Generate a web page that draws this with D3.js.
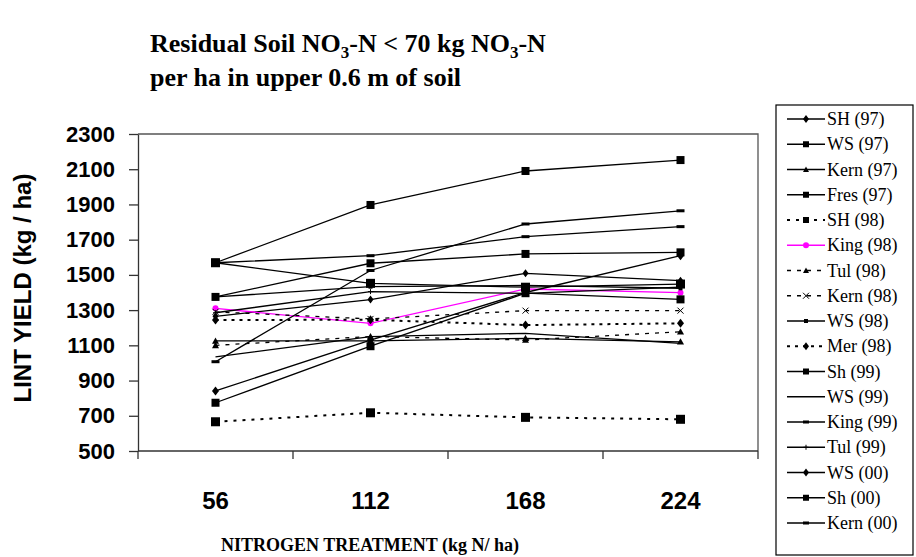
<!DOCTYPE html>
<html>
<head>
<meta charset="utf-8">
<script src="https://cdn.jsdelivr.net/npm/d3@7"></script>
<style>
  body { margin: 0; background: #fff; }
  svg { display: block; }
  .serif { font-family: "Liberation Serif", "DejaVu Serif Condensed", "DejaVu Serif", serif; }
  .sans { font-family: "Liberation Sans", Arial, Helvetica, sans-serif; }
</style>
</head>
<body>
<svg id="chart" width="916" height="557"></svg>
<script>
// nitrogen rates (kg N/ha)
const rates = ['56', '112', '168', '224'];
const yTicks = [500, 700, 900, 1100, 1300, 1500, 1700, 1900, 2100, 2300];

// lint yield per site/year
const sh97 = [1265, 1360, 1509, 1467];
const ws97 = [1569, 1897, 2090, 2152];
const kern97 = [1125, 1125, 1140, 1120];
const fres97 = [1375, 1566, 1619, 1628];
const sh98 = [666, 717, 691, 680];
const king98 = [1310, 1225, 1420, 1399];
const tul98 = [1100, 1150, 1130, 1177];
const kern98 = [1290, 1250, 1297, 1297];
const ws98 = [1375, 1433, 1440, 1424];
const mer98 = [1244, 1245, 1215, 1225];
const sh99 = [1569, 1452, 1430, 1448];
const ws99 = [1035, 1149, 1168, 1111];
const king99 = [1569, 1609, 1717, 1774];
const tul99 = [1285, 1405, 1395, 1430];
const ws00 = [841, 1130, 1400, 1609];
const sh00 = [774, 1095, 1396, 1361];
const kern00 = [1007, 1525, 1789, 1864];

const seriesNames = ['SH (97)', 'WS (97)', 'Kern (97)', 'Fres (97)', 'SH (98)', 'King (98)',
  'Tul (98)', 'Kern (98)', 'WS (98)', 'Mer (98)', 'Sh (99)', 'WS (99)', 'King (99)',
  'Tul (99)', 'WS (00)', 'Sh (00)', 'Kern (00)'];
const seriesValues = [sh97, ws97, kern97, fres97, sh98, king98, tul98, kern98, ws98,
  mer98, sh99, ws99, king99, tul99, ws00, sh00, kern00];

// drawing style per series: marker, dash, colour
const styles = [
  { m: 'diamond', s: 3, dash: null, c: '#000' },
  { m: 'square', s: 4, dash: null, c: '#000' },
  { m: 'triangle', s: 3.5, dash: null, c: '#000' },
  { m: 'square', s: 4, dash: null, c: '#000' },
  { m: 'square', s: 4.5, dash: '3,6', c: '#000', w: 2 },
  { m: 'circle', s: 3, dash: null, c: '#ff00ff' },
  { m: 'triangle', s: 3.5, dash: '4,6', c: '#000' },
  { m: 'cross', s: 3, dash: '4,6', c: '#000' },
  { m: 'square', s: 2, dash: null, c: '#000' },
  { m: 'diamond', s: 3.5, dash: '3,5', c: '#000', w: 2 },
  { m: 'square', s: 4.5, dash: null, c: '#000' },
  { m: 'none', s: 0, dash: null, c: '#000' },
  { m: 'dash', s: 4, dash: null, c: '#000' },
  { m: 'plus', s: 2.5, dash: null, c: '#000' },
  { m: 'diamond', s: 3.5, dash: null, c: '#000' },
  { m: 'square', s: 4, dash: null, c: '#000' },
  { m: 'dash', s: 4, dash: null, c: '#000' }
];

const svg = d3.select('#chart');
const plot = { left: 138, right: 758, top: 134, bottom: 451 };

const x = d3.scaleBand().domain(rates).range([plot.left, plot.right]);
const y = d3.scaleLinear().domain([500, 2300]).range([plot.bottom, plot.top]);
const cx = d => x(d) + x.bandwidth() / 2;

// title
const title = svg.append('text')
  .attr('class', 'serif')
  .attr('x', 150).attr('y', 52)
  .attr('font-weight', 'bold').attr('font-size', 26).attr('fill', '#000');
title.append('tspan').text('Residual Soil NO');
title.append('tspan').attr('font-size', 17).attr('dy', 6).text('3');
title.append('tspan').attr('dy', -6).text('-N < 70 kg NO');
title.append('tspan').attr('font-size', 17).attr('dy', 6).text('3');
title.append('tspan').attr('dy', -6).text('-N');
svg.append('text')
  .attr('class', 'serif')
  .attr('x', 150).attr('y', 86)
  .attr('font-weight', 'bold').attr('font-size', 26)
  .text('per ha in upper 0.6 m of soil');

// plot frame (top and right edges)
svg.append('path')
  .attr('d', `M${plot.left},${plot.top}H${plot.right}V${plot.bottom}`)
  .attr('fill', 'none').attr('stroke', '#555').attr('stroke-width', 1.3);

// y axis
const yAxis = svg.append('g')
  .attr('transform', `translate(${plot.left},0)`)
  .call(d3.axisLeft(y).tickValues(yTicks).tickFormat(d3.format('d'))
    .tickSize(9).tickSizeOuter(0).tickPadding(14));
yAxis.selectAll('path, line').attr('stroke', '#333').attr('stroke-width', 1.3);
yAxis.selectAll('text')
  .attr('class', 'sans')
  .attr('font-family', null)
  .attr('font-weight', 'bold').attr('font-size', 22).attr('fill', '#000');

// x axis: ticks between categories
const xAxis = svg.append('g').attr('transform', `translate(0,${plot.bottom})`);
xAxis.append('line')
  .attr('x1', plot.left).attr('x2', plot.right)
  .attr('stroke', '#333').attr('stroke-width', 1.3);
xAxis.selectAll('.tk')
  .data(rates.concat(['end']))
  .join('line')
  .attr('x1', (d, i) => plot.left + i * x.bandwidth())
  .attr('x2', (d, i) => plot.left + i * x.bandwidth())
  .attr('y1', 0).attr('y2', 8)
  .attr('stroke', '#333').attr('stroke-width', 1.3);
xAxis.selectAll('.lbl')
  .data(rates)
  .join('text')
  .attr('class', 'sans')
  .attr('x', d => cx(d)).attr('y', 58)
  .attr('text-anchor', 'middle')
  .attr('font-weight', 'bold').attr('font-size', 24)
  .text(d => d);

// axis titles
svg.append('text')
  .attr('class', 'sans')
  .attr('transform', 'translate(31,288) rotate(-90)')
  .attr('text-anchor', 'middle')
  .attr('font-weight', 'bold').attr('font-size', 24)
  .text('LINT YIELD (kg / ha)');
svg.append('text')
  .attr('class', 'serif')
  .attr('x', 370).attr('y', 551)
  .attr('text-anchor', 'middle')
  .attr('font-weight', 'bold').attr('font-size', 18)
  .text('NITROGEN TREATMENT (kg N/ ha)');

function drawMarker(g, st, px, py) {
  const s = st.s;
  if (st.m === 'square') {
    g.append('rect').attr('x', px - s).attr('y', py - s).attr('width', 2 * s).attr('height', 2 * s).attr('fill', st.c);
  } else if (st.m === 'diamond') {
    g.append('path').attr('d', `M${px},${py - s - 1}L${px + s},${py}L${px},${py + s + 1}L${px - s},${py}Z`).attr('fill', st.c);
  } else if (st.m === 'triangle') {
    g.append('path').attr('d', `M${px},${py - s}L${px + s},${py + s * 0.8}L${px - s},${py + s * 0.8}Z`).attr('fill', st.c);
  } else if (st.m === 'circle') {
    g.append('circle').attr('cx', px).attr('cy', py).attr('r', s).attr('fill', st.c);
  } else if (st.m === 'cross') {
    g.append('path').attr('d', `M${px - s},${py - s}L${px + s},${py + s}M${px - s},${py + s}L${px + s},${py - s}`).attr('stroke', st.c).attr('stroke-width', 1);
  } else if (st.m === 'plus') {
    g.append('path').attr('d', `M${px - s},${py}H${px + s}M${px},${py - s}V${py + s}`).attr('stroke', st.c).attr('stroke-width', 1);
  } else if (st.m === 'dash') {
    g.append('rect').attr('x', px - s).attr('y', py - 1.5).attr('width', 2 * s).attr('height', 3).attr('fill', st.c);
  }
}

// series lines
const line = d3.line().x((d, i) => cx(rates[i])).y(d => y(d));
seriesValues.forEach((vals, k) => {
  const st = styles[k];
  const g = svg.append('g');
  g.append('path')
    .datum(vals)
    .attr('d', line)
    .attr('fill', 'none')
    .attr('stroke', st.c)
    .attr('stroke-width', st.w || 1.3)
    .attr('stroke-dasharray', st.dash);
  vals.forEach((v, i) => drawMarker(g, st, cx(rates[i]), y(v)));
});

// legend
const lg = svg.append('g');
lg.append('rect')
  .attr('x', 776).attr('y', 105).attr('width', 137).attr('height', 450)
  .attr('fill', '#fff').attr('stroke', '#000').attr('stroke-width', 1.2);
seriesNames.forEach((name, k) => {
  const st = styles[k];
  const ly = 119 + k * 25.25;
  lg.append('line')
    .attr('x1', 787).attr('x2', 825).attr('y1', ly).attr('y2', ly)
    .attr('stroke', st.c)
    .attr('stroke-width', st.w || 1.3)
    .attr('stroke-dasharray', st.dash);
  drawMarker(lg, Object.assign({}, st, { s: Math.min(st.s, 3) }), 806, ly);
  lg.append('text')
    .attr('class', 'serif')
    .attr('x', 827).attr('y', ly + 6)
    .attr('font-size', 18)
    .text(name);
});
</script>
</body>
</html>
